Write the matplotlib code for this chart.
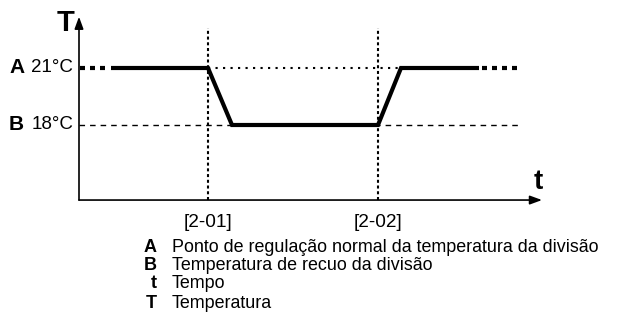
import matplotlib
matplotlib.use("Agg")
import matplotlib.pyplot as plt

plt.rcParams['font.family'] = ['Liberation Sans', 'DejaVu Sans']

# Temperature levels (degC)
T_normal = 21
T_setback = 18
level_labels = [("A", "21°C", T_normal), ("B", "18°C", T_setback)]

# Time markers (arbitrary time units) and their labels
t_setback_start = 12.9
t_setback_end = 29.9
time_ticks = [t_setback_start, t_setback_end]
time_tick_labels = ["[2-01]", "[2-02]"]

# Room temperature profile (solid part)
profile_t = [3.2, 12.9, 15.3, 29.9, 32.2, 40.0]
profile_T = [21, 21, 18, 18, 21, 21]
# dashed continuation before and after
lead_t = [0.1, 3.1]
tail_t = [40.3, 43.9]

# Legend entries
legend_keys = ["A", "B", "t", "T"]
legend_texts = ["Ponto de regulação normal da temperatura da divisão",
                "Temperatura de recuo da divisão",
                "Tempo",
                "Temperatura"]

t_axis_end = 46.3
T_axis_base = 14.05
T_axis_top = 23.7

fig = plt.figure(figsize=(6.19, 3.32), dpi=100)
ax = fig.add_axes([0, 0, 1, 1])
ax.set_xlim(-7.9, 54.0)
ax.set_ylim(7.105, 24.579)
ax.axis("off")

# reference lines
ax.plot([t_setback_start, profile_t[-1]], [T_normal, T_normal], color='black',
        lw=1.5, linestyle=(0, (1.05, 2.55)))
ax.plot([0, 44.1], [T_setback, T_setback], color='black',
        lw=1.0, linestyle=(0, (4.0, 3.6)))
for tt in time_ticks:
    ax.plot([tt, tt], [T_axis_base, 23.1], color='black',
            lw=1.5, linestyle=(0, (1.45, 1.3)))

# temperature profile
ax.plot(profile_t, profile_T, color='black', lw=3.0, solid_joinstyle='miter',
        solid_capstyle='butt')
ax.plot(lead_t, [T_normal, T_normal], color='black', lw=3.0,
        linestyle=(0, (1.2, 1.2)), dash_capstyle='butt')
ax.plot(tail_t, [T_normal, T_normal], color='black', lw=3.0,
        linestyle=(0, (1.2, 1.2)), dash_capstyle='butt')

# axes with arrows
arrow = dict(arrowstyle='-|>,head_length=0.6,head_width=0.22', color='black',
             lw=1.2, mutation_scale=12, shrinkA=0, shrinkB=0)
ax.annotate("", xy=(t_axis_end, T_axis_base), xytext=(0, T_axis_base),
            arrowprops=arrow)
ax.annotate("", xy=(0, T_axis_top), xytext=(0, T_axis_base),
            arrowprops=arrow)
ax.text(-1.3, 23.35, "T", fontsize=21, fontweight='bold', ha='center', va='center')
ax.text(45.9, 15.0, "t", fontsize=20, fontweight='bold', ha='center', va='center')

# level labels
for key, txt, lvl in level_labels:
    ax.text(-7.0, lvl, key, fontsize=15, fontweight='bold', ha='left', va='center')
    ax.text(-0.6, lvl, txt, fontsize=13.5, ha='right', va='center')

# time tick labels
for tt, lab in zip(time_ticks, time_tick_labels):
    ax.text(tt, 12.85, lab, fontsize=13.7, ha='center', va='center')

# legend
row_y = [247, 265, 284, 303]
for key, txt, y in zip(legend_keys, legend_texts, row_y):
    fig.text(157 / 619, 1 - y / 332, key, fontsize=13, fontweight='bold',
             ha='right', va='center')
    fig.text(172 / 619, 1 - y / 332, txt, fontsize=12.9, ha='left', va='center')

fig.savefig("out.png", dpi=100)
